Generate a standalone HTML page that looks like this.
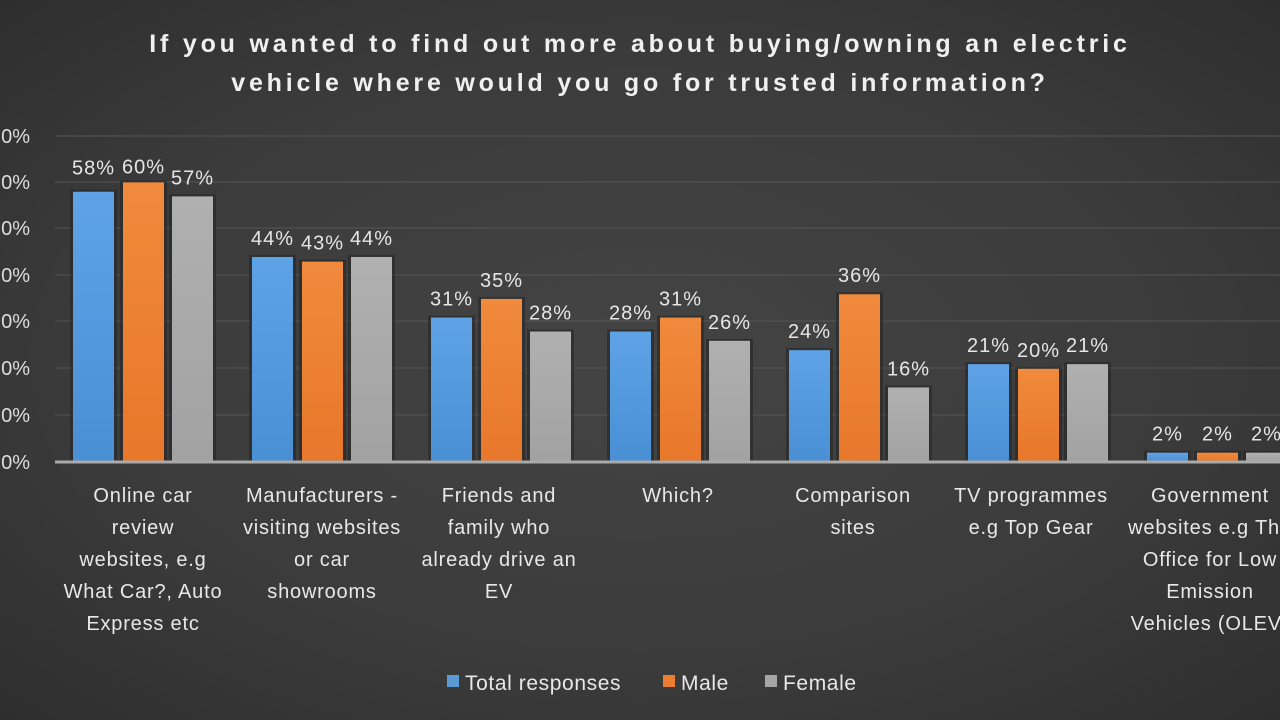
<!DOCTYPE html>
<html><head><style>
body{margin:0;width:1280px;height:720px;overflow:hidden;background:radial-gradient(ellipse at center,#444 0%,#3b3b3b 60%,#2e2e2e 100%);font-family:"Liberation Sans",sans-serif;}
</style></head><body>
<svg width="1280" height="720" xmlns="http://www.w3.org/2000/svg" style="position:absolute;left:0;top:0">
<defs>
<linearGradient id="b" x1="0" y1="0" x2="0" y2="1"><stop offset="0" stop-color="#5fa3e6"/><stop offset="1" stop-color="#4a8fd4"/></linearGradient>
<linearGradient id="o" x1="0" y1="0" x2="0" y2="1"><stop offset="0" stop-color="#f08a3c"/><stop offset="1" stop-color="#e8772a"/></linearGradient>
<linearGradient id="g" x1="0" y1="0" x2="0" y2="1"><stop offset="0" stop-color="#b0b0b0"/><stop offset="1" stop-color="#a2a2a2"/></linearGradient>
</defs>
<g font-weight="bold" fill="#f0f0f0" font-size="25" text-anchor="middle" letter-spacing="3.8">
<text x="640" y="52">If you wanted to find out more about buying/owning an electric</text>
<text x="640" y="91">vehicle where would you go for trusted information?</text>
</g>
<g stroke="#555" stroke-width="1">
<line x1="55" y1="136" x2="1280" y2="136"/><line x1="55" y1="182" x2="1280" y2="182"/>
<line x1="55" y1="228" x2="1280" y2="228"/><line x1="55" y1="275" x2="1280" y2="275"/>
<line x1="55" y1="321" x2="1280" y2="321"/><line x1="55" y1="368" x2="1280" y2="368"/>
<line x1="55" y1="415" x2="1280" y2="415"/>
</g>
<g fill="#ddd" font-size="20" text-anchor="end">
<text x="30" y="143">0%</text><text x="30" y="189">0%</text><text x="30" y="235">0%</text>
<text x="30" y="282">0%</text><text x="30" y="328">0%</text><text x="30" y="375">0%</text>
<text x="30" y="422">0%</text><text x="30" y="469">0%</text>
</g>
<g id="bars"></g>
<line x1="55" y1="462" x2="1280" y2="462" stroke="#aaa" stroke-width="3"/>
<g fill="#e8e8e8" font-size="20" text-anchor="middle" letter-spacing="0.8">
<text x="143" y="502">Online car</text><text x="143" y="534">review</text><text x="143" y="566">websites, e.g</text><text x="143" y="598">What Car?, Auto</text><text x="143" y="630">Express etc</text>
<text x="322" y="502">Manufacturers -</text><text x="322" y="534">visiting websites</text><text x="322" y="566">or car</text><text x="322" y="598">showrooms</text>
<text x="499" y="502">Friends and</text><text x="499" y="534">family who</text><text x="499" y="566">already drive an</text><text x="499" y="598">EV</text>
<text x="678" y="502">Which?</text>
<text x="853" y="502">Comparison</text><text x="853" y="534">sites</text>
<text x="1031" y="502">TV programmes</text><text x="1031" y="534">e.g Top Gear</text>
<text x="1210" y="502">Government</text><text x="1210" y="534">websites e.g The</text><text x="1210" y="566">Office for Low</text><text x="1210" y="598">Emission</text><text x="1210" y="630">Vehicles (OLEV)</text>
</g>
<g font-size="21" fill="#e8e8e8" letter-spacing="0.6">
<rect x="447" y="675" width="12" height="12" fill="#5b9bd5"/><text x="465" y="690">Total responses</text>
<rect x="663" y="675" width="12" height="12" fill="#ed7d31"/><text x="681" y="690">Male</text>
<rect x="765" y="675" width="12" height="12" fill="#a5a5a5"/><text x="783" y="690">Female</text>
</g>
</svg>
<script>
var d=[[58,60,57],[44,43,44],[31,35,28],[28,31,26],[24,36,16],[21,20,21],[2,2,2]];
var off=[73,123,172],f=["url(#b)","url(#o)","url(#g)"],s="";
d.forEach(function(r,i){r.forEach(function(v,j){var x=off[j]+179*i,h=v*4.66,y=462-h;
s+='<rect x="'+(x-3)+'" y="'+(y-2)+'" width="47" height="'+(h+2)+'" fill="#262626" opacity="0.6"/>';
s+='<rect x="'+x+'" y="'+y+'" width="41" height="'+h+'" fill="'+f[j]+'"/>';
var ly=y-12; if(i==0&&j==0)ly=y-17; if(i==0&&j==1)ly=y-9;
s+='<text x="'+(x+20.5)+'" y="'+ly+'" fill="#e6e6e6" font-size="20" letter-spacing="1" text-anchor="middle">'+v+'%</text>';});});
document.getElementById('bars').innerHTML=s;
</script>
</body></html>
